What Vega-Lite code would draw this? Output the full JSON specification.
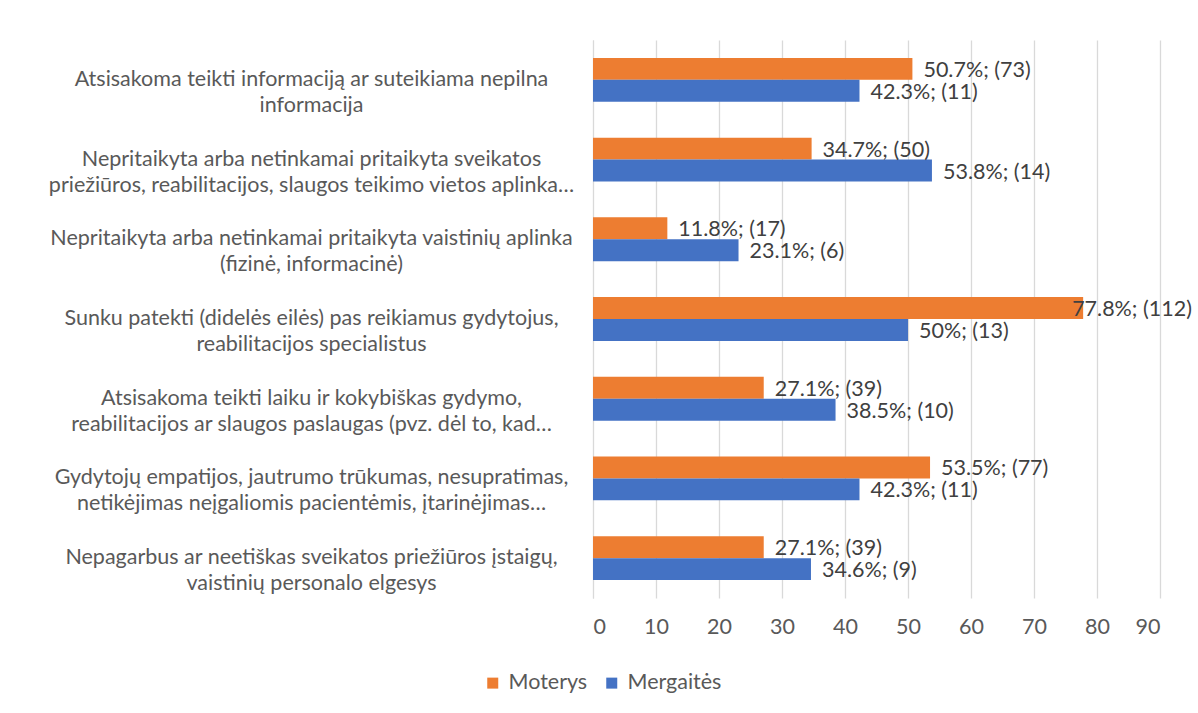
{
  "$schema": "https://vega.github.io/schema/vega-lite/v6.json",
  "width": 567,
  "height": 558,
  "autosize": {"type": "none"},
  "padding": {"left": 593, "top": 40, "right": 38, "bottom": 115},
  "background": "white",
  "config": {
    "font": "Lato",
    "view": {"stroke": null}
  },
  "data": {
    "values": [
      {"category": "Atsisakoma teikti informaciją ar suteikiama nepilna\ninformacija", "series": "Moterys", "value": 50.7, "label": "50.7%; (73)"},
      {"category": "Atsisakoma teikti informaciją ar suteikiama nepilna\ninformacija", "series": "Mergaitės", "value": 42.3, "label": "42.3%; (11)"},
      {"category": "Nepritaikyta arba netinkamai pritaikyta sveikatos\npriežiūros, reabilitacijos, slaugos teikimo vietos aplinka…", "series": "Moterys", "value": 34.7, "label": "34.7%; (50)"},
      {"category": "Nepritaikyta arba netinkamai pritaikyta sveikatos\npriežiūros, reabilitacijos, slaugos teikimo vietos aplinka…", "series": "Mergaitės", "value": 53.8, "label": "53.8%; (14)"},
      {"category": "Nepritaikyta arba netinkamai pritaikyta vaistinių aplinka\n(fizinė, informacinė)", "series": "Moterys", "value": 11.8, "label": "11.8%; (17)"},
      {"category": "Nepritaikyta arba netinkamai pritaikyta vaistinių aplinka\n(fizinė, informacinė)", "series": "Mergaitės", "value": 23.1, "label": "23.1%; (6)"},
      {"category": "Sunku patekti (didelės eilės) pas reikiamus gydytojus,\nreabilitacijos specialistus", "series": "Moterys", "value": 77.8, "label": "77.8%; (112)"},
      {"category": "Sunku patekti (didelės eilės) pas reikiamus gydytojus,\nreabilitacijos specialistus", "series": "Mergaitės", "value": 50, "label": "50%; (13)"},
      {"category": "Atsisakoma teikti laiku ir kokybiškas gydymo,\nreabilitacijos ar slaugos paslaugas (pvz. dėl to, kad…", "series": "Moterys", "value": 27.1, "label": "27.1%; (39)"},
      {"category": "Atsisakoma teikti laiku ir kokybiškas gydymo,\nreabilitacijos ar slaugos paslaugas (pvz. dėl to, kad…", "series": "Mergaitės", "value": 38.5, "label": "38.5%; (10)"},
      {"category": "Gydytojų empatijos, jautrumo trūkumas, nesupratimas,\nnetikėjimas neįgaliomis pacientėmis, įtarinėjimas…", "series": "Moterys", "value": 53.5, "label": "53.5%; (77)"},
      {"category": "Gydytojų empatijos, jautrumo trūkumas, nesupratimas,\nnetikėjimas neįgaliomis pacientėmis, įtarinėjimas…", "series": "Mergaitės", "value": 42.3, "label": "42.3%; (11)"},
      {"category": "Nepagarbus ar neetiškas sveikatos priežiūros įstaigų,\nvaistinių personalo elgesys", "series": "Moterys", "value": 27.1, "label": "27.1%; (39)"},
      {"category": "Nepagarbus ar neetiškas sveikatos priežiūros įstaigų,\nvaistinių personalo elgesys", "series": "Mergaitės", "value": 34.6, "label": "34.6%; (9)"}
    ]
  },
  "encoding": {
    "y": {
      "field": "category",
      "type": "nominal",
      "sort": null,
      "title": null,
      "scale": {"paddingInner": 0.45, "paddingOuter": 0.225},
      "axis": {
        "domain": true,
        "domainColor": "#D9D9D9",
        "domainWidth": 1,
        "ticks": false,
        "grid": false,
        "labelAlign": "center",
        "labelBaseline": "middle",
        "labelPadding": 282,
        "labelLimit": 0,
        "labelFontSize": 21.5,
        "labelColor": "#595959",
        "labelLineHeight": 26,
        "labelExpr": "split(datum.label, '\\n')"
      }
    },
    "yOffset": {
      "field": "series",
      "type": "nominal",
      "sort": ["Moterys", "Mergaitės"],
      "scale": {"paddingInner": 0, "paddingOuter": 0}
    },
    "x": {
      "field": "value",
      "type": "quantitative",
      "title": null,
      "scale": {"domain": [0, 90], "nice": false, "zero": true},
      "axis": {
        "values": [0, 10, 20, 30, 40, 50, 60, 70, 80, 90],
        "domain": false,
        "ticks": false,
        "grid": true,
        "gridColor": "#D9D9D9",
        "gridWidth": 1.3,
        "labelFontSize": 21.5,
        "labelColor": "#595959",
        "labelPadding": 18
      }
    }
  },
  "layer": [
    {
      "mark": {"type": "bar"},
      "encoding": {
        "color": {
          "field": "series",
          "type": "nominal",
          "scale": {"domain": ["Moterys", "Mergaitės"], "range": ["#ED7D31", "#4472C4"]},
          "legend": {
            "orient": "none",
            "direction": "horizontal",
            "legendX": -111,
            "legendY": 632,
            "title": null,
            "symbolType": "square",
            "symbolSize": 121,
            "symbolStrokeWidth": 0,
            "labelFontSize": 21.5,
            "labelColor": "#595959",
            "labelOffset": 5,
            "columnPadding": 13
          }
        }
      }
    },
    {
      "mark": {
        "type": "text",
        "align": "left",
        "baseline": "middle",
        "dx": {"expr": "datum.value > 75 ? -11 : 11"},
        "dy": 2,
        "fontSize": 21.5,
        "color": "#404040"
      },
      "encoding": {
        "text": {"field": "label", "type": "nominal"}
      }
    }
  ]
}
